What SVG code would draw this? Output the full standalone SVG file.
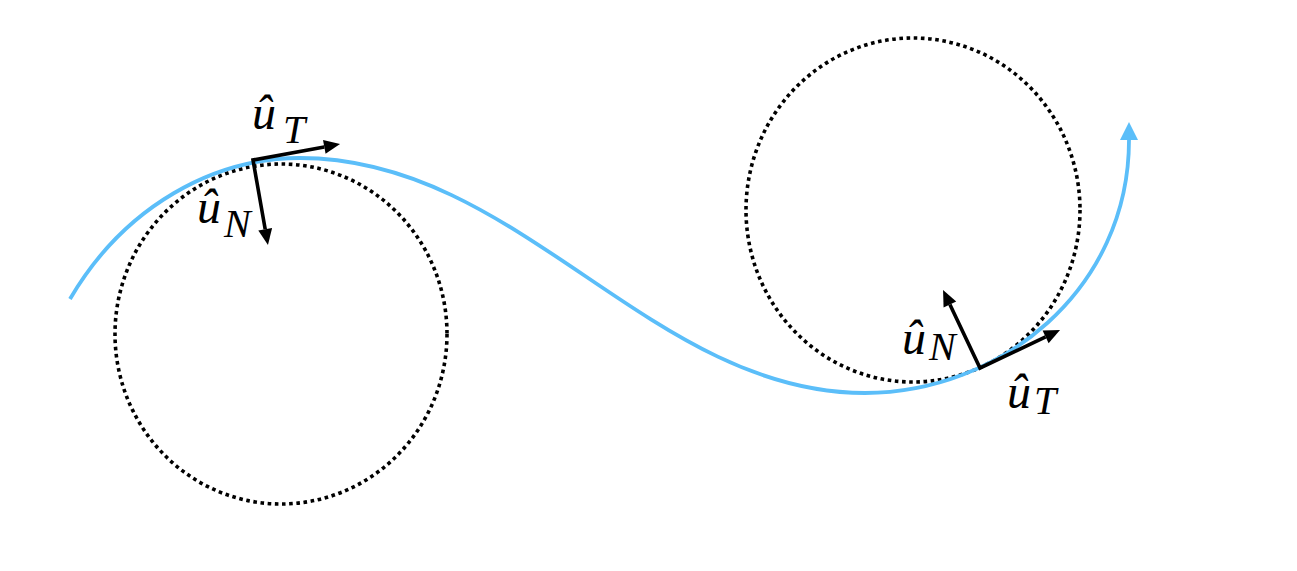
<svg xmlns="http://www.w3.org/2000/svg" width="1297" height="571" viewBox="0 0 1297 571">
<style>
.circ{fill:none;stroke:#000;stroke-width:3.6;stroke-dasharray:3.6 3.6}
.path{fill:none;stroke:#5BBEF9;stroke-width:3.8}
.vec{fill:none;stroke:#000;stroke-width:3.6;stroke-linejoin:miter}
.u{font-family:"Liberation Serif","Times New Roman",serif;font-style:italic;font-size:48px;fill:#000}
.s{font-family:"Liberation Serif","Times New Roman",serif;font-style:italic;font-size:40px;fill:#000}
</style>
<defs>
<marker id="ah" markerUnits="userSpaceOnUse" markerWidth="20" markerHeight="20" viewBox="0 -10 20 20" refX="0" refY="0" orient="auto-start-reverse" overflow="visible">
<path d="M0,-7 L16,0 L0,7 z" fill="#000"/>
</marker>
<marker id="bh" markerUnits="userSpaceOnUse" markerWidth="24" markerHeight="24" viewBox="0 -12 24 24" refX="0" refY="0" orient="auto" overflow="visible">
<path d="M0,-9 L18,0 L0,9 z" fill="#5BBEF9"/>
</marker>
</defs>
<g id="circle-left"><ellipse class="circ" cx="281" cy="334" rx="166" ry="170"/></g>
<g id="circle-right"><ellipse class="circ" cx="913" cy="210" rx="167" ry="172"/></g>
<g id="connectors">
<path id="trajectory" class="path" marker-end="url(#bh)" d="M70,299 C125,205 215,158 300,158 C520,158 650,393 865,393 C1000,393 1129,290 1129,140"/>
<path id="vectors-left" class="vec" marker-start="url(#ah)" marker-end="url(#ah)" d="M324.3,146.9 L253,160 L265.2,229.2"/>
<path id="vectors-right" class="vec" marker-start="url(#ah)" marker-end="url(#ah)" d="M949.9,304.5 L980,368 L1045.6,336.9"/>
</g>
<g id="label-uT-left"><text class="u" x="252" y="129">û</text><text class="s" x="283" y="143">T</text></g>
<g id="label-uN-left"><text class="u" x="197" y="223">û</text><text class="s" x="224" y="237">N</text></g>
<g id="label-uN-right"><text class="u" x="902" y="354">û</text><text class="s" x="929" y="360">N</text></g>
<g id="label-uT-right"><text class="u" x="1007" y="408">û</text><text class="s" x="1034" y="414">T</text></g>
</svg>
